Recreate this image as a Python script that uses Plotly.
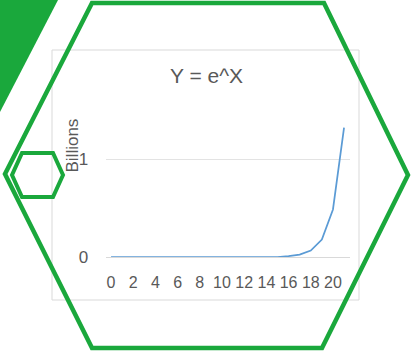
import plotly.graph_objects as go

# values (y shown in billions)
x_vals = list(range(22))
y_billions = [0, 0, 0, 0, 0, 0, 0, 0, 0, 0, 0,
              0, 0, 0, 0.000001, 0.000003, 0.0089, 0.024, 0.066, 0.178, 0.485, 1.319]
x_ticks = list(range(0, 21, 2))
y_ticks = [0, 1]

W, H = 415, 351
GREEN = "#1aa83c"
GREY_TXT = "#595959"
FONT = "Liberation Sans, Arial, sans-serif"


def px(x, y):
    # pixel -> paper coords
    return x / W, 1 - y / H


def path(points, close=True):
    s = ""
    for i, (x, y) in enumerate(points):
        u, v = px(x, y)
        s += ("M" if i == 0 else "L") + f"{u:.4f},{v:.4f} "
    return s + ("Z" if close else "")


fig = go.Figure()
fig.add_trace(go.Scatter(
    x=x_vals, y=y_billions, mode="lines",
    line=dict(color="#5b9bd5", width=1.75),
    hoverinfo="skip", showlegend=False,
))

# plot area in pixels
x0_px, x1_px = 105.5, 349.6
y_zero_px, y_one_px = 257, 159
y_top = 1.4
top_px = y_zero_px - (y_zero_px - y_one_px) * y_top

fig.update_layout(
    width=W, height=H,
    margin=dict(l=0, r=0, t=0, b=0),
    paper_bgcolor="white", plot_bgcolor="white",
    showlegend=False,
    xaxis=dict(
        domain=[x0_px / W, x1_px / W],
        range=[-0.5, 21.5],
        tickvals=x_ticks,
        showgrid=False, zeroline=False, automargin=False,
        showline=True, linecolor="#d9d9d9", linewidth=1,
        ticks="outside", ticklen=11, tickcolor="rgba(0,0,0,0)",
        tickfont=dict(family=FONT, size=16, color=GREY_TXT),
    ),
    yaxis=dict(
        domain=[1 - y_zero_px / H, 1 - top_px / H],
        range=[0, y_top],
        tickvals=y_ticks,
        showgrid=True, gridcolor="#e3e3e3", gridwidth=1,
        zeroline=False, showline=False, automargin=False,
        ticks="outside", ticklen=13, tickcolor="rgba(0,0,0,0)",
        tickfont=dict(family=FONT, size=17, color=GREY_TXT),
    ),
)

# chart box border
bx0, by0 = px(52, 50)
bx1, by1 = px(359, 300)
fig.add_shape(type="rect", xref="paper", yref="paper",
              x0=bx0, y0=by1, x1=bx1, y1=by0,
              line=dict(color="#d9d9d9", width=1), layer="below")

# title and display-units label
tx, ty = px(206, 76)
fig.add_annotation(text="Y = e^X", xref="paper", yref="paper", x=tx, y=ty,
                   showarrow=False, xanchor="center", yanchor="middle",
                   font=dict(family=FONT, size=21, color=GREY_TXT))
lx, ly = px(71.5, 146)
fig.add_annotation(text="Billions", xref="paper", yref="paper", x=lx, y=ly,
                   textangle=-90, showarrow=False, xanchor="center", yanchor="middle",
                   font=dict(family=FONT, size=17, color=GREY_TXT))

# decorative green shapes
fig.add_shape(type="path", xref="paper", yref="paper",
              path=path([(0, 0), (58, 0), (0, 112)]),
              fillcolor=GREEN, line=dict(width=0))
fig.add_shape(type="path", xref="paper", yref="paper",
              path=path([(92, 3), (324, 3), (408, 175), (322, 348), (92, 348), (5, 174)]),
              line=dict(color=GREEN, width=4.5))
fig.add_shape(type="path", xref="paper", yref="paper",
              path=path([(22, 153), (53, 153), (63, 175), (53, 197), (22, 197), (12, 175)]),
              line=dict(color=GREEN, width=4))

# drop the default page margin so the figure sits at the window's corner
fig.write_html("out.html", config={"displayModeBar": False},
               post_script="document.body.style.margin='0px';")
